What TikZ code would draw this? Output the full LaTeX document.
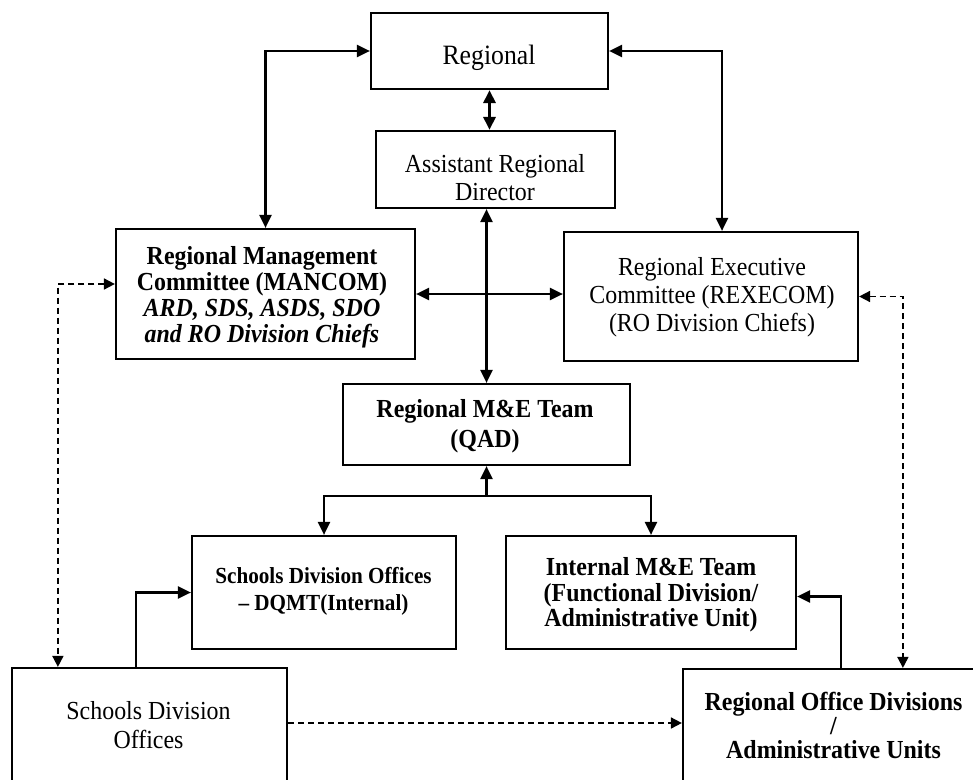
\documentclass[tikz,border=0pt]{standalone}
\usepackage{fontspec}
\setmainfont{Liberation Serif}[FakeStretch=0.92]
\usetikzlibrary{arrows.meta}
\begin{document}
\begin{tikzpicture}[x=1bp,y=-1bp,
  box/.style={draw,line width=2.2bp,inner sep=0pt},
  lbl/.style={align=center,inner sep=0pt,font=\fontsize{26bp}{#1}\selectfont},
  blbl/.style={align=center,inner sep=0pt,font=\fontsize{26bp}{#1}\selectfont\bfseries},
  conn/.style={line width=2.2bp,{Triangle[length=13bp,width=12bp]}-{Triangle[length=13bp,width=12bp]}},
  sconn/.style={line width=2.2bp,-{Triangle[length=13bp,width=12bp]}},
  dconn/.style={line width=1.7bp,dash pattern=on 6bp off 4bp,{Triangle[length=11bp,width=11bp]}-{Triangle[length=11bp,width=11bp]}},
  dsconn/.style={line width=1.7bp,dash pattern=on 6bp off 4bp,-{Triangle[length=11bp,width=11bp]}}
]
\useasboundingbox (0,0) rectangle (973,780);
\clip (0,0) rectangle (973,780);

% boxes
\node[box,minimum width=237bp,minimum height=76bp] (reg) at (489.5,51) {};
\node[box,minimum width=239bp,minimum height=77bp] (ard) at (495.5,169.5) {};
\node[box,minimum width=299bp,minimum height=130bp] (mancom) at (265.5,294) {};
\node[box,minimum width=294bp,minimum height=129bp] (rexecom) at (711,296.5) {};
\node[box,minimum width=287bp,minimum height=81bp] (me) at (486.5,424.5) {};
\node[box,minimum width=264bp,minimum height=113bp] (dqmt) at (324,592.5) {};
\node[box,minimum width=290bp,minimum height=113bp] (internal) at (651,592.5) {};
\node[box,minimum width=275bp,minimum height=132bp] (sdo) at (149.5,734) {};
\node[box,minimum width=317bp,minimum height=131bp] (rod) at (841.5,734.5) {};

% texts
\node[lbl=30bp,font=\fontsize{28bp}{30bp}\selectfont] (regT) at (489,58) {Regional};
\node[lbl=28bp] (ardT) at (495,178) {Assistant Regional\\Director};
\node[blbl=26bp] (mancomT) at (262,297.5) {Regional Management\\Committee (MANCOM)\\\textit{ARD, SDS, ASDS, SDO}\\\textit{and RO Division Chiefs}};
\node[lbl=28bp] (rexecomT) at (712,297) {Regional Executive\\Committee (REXECOM)\\(RO Division Chiefs)};
\node[blbl=30bp] (meT) at (485,426) {Regional M\&E Team\\(QAD)};
\node[blbl=27bp,font=\fontsize{23bp}{27bp}\selectfont\bfseries] (dqmtT) at (323.5,591.5) {Schools Division Offices\\– DQMT(Internal)};
\node[blbl=25.7bp] (internalT) at (651,595) {Internal M\&E Team\\(Functional Division/\\Administrative Unit)};
\node[lbl=29bp] (sdoT) at (148.5,725.5) {Schools Division\\Offices};
\node[blbl=24bp] (rodT) at (833.5,725) {Regional Office Divisions\\/\\Administrative Units};

% connectors
\draw[conn] (reg.west) -| (mancom.north);
\draw[conn] (reg.east) -| ([xshift=11bp]rexecom.north);
\draw[conn,line width=3bp] (reg.south) -- (reg.south |- ard.north);
\draw[conn] (ard.south -| me.north) -- (me.north);
\draw[conn] (mancom.east) -- (mancom.east -| rexecom.west);
\draw[dconn] ([yshift=10bp]mancom.west) -| ([xshift=47bp]sdo.north west);
\draw[dconn] (rexecom.east) -| ([xshift=221bp]rod.north west);
\coordinate (j) at (486.5,496);
\draw[sconn] (j) -- (me.south);
\draw[conn] (dqmt.north) |- (j) -| (internal.north);
\draw[sconn] ([xshift=125bp]sdo.north west) |- (dqmt.west);
\draw[sconn] ([xshift=159bp]rod.north west) |- ([yshift=-4bp]internal.east);
\draw[dsconn] ([yshift=11bp]sdo.east) -- ([yshift=11bp]sdo.east -| rod.west);
\end{tikzpicture}
\end{document}
